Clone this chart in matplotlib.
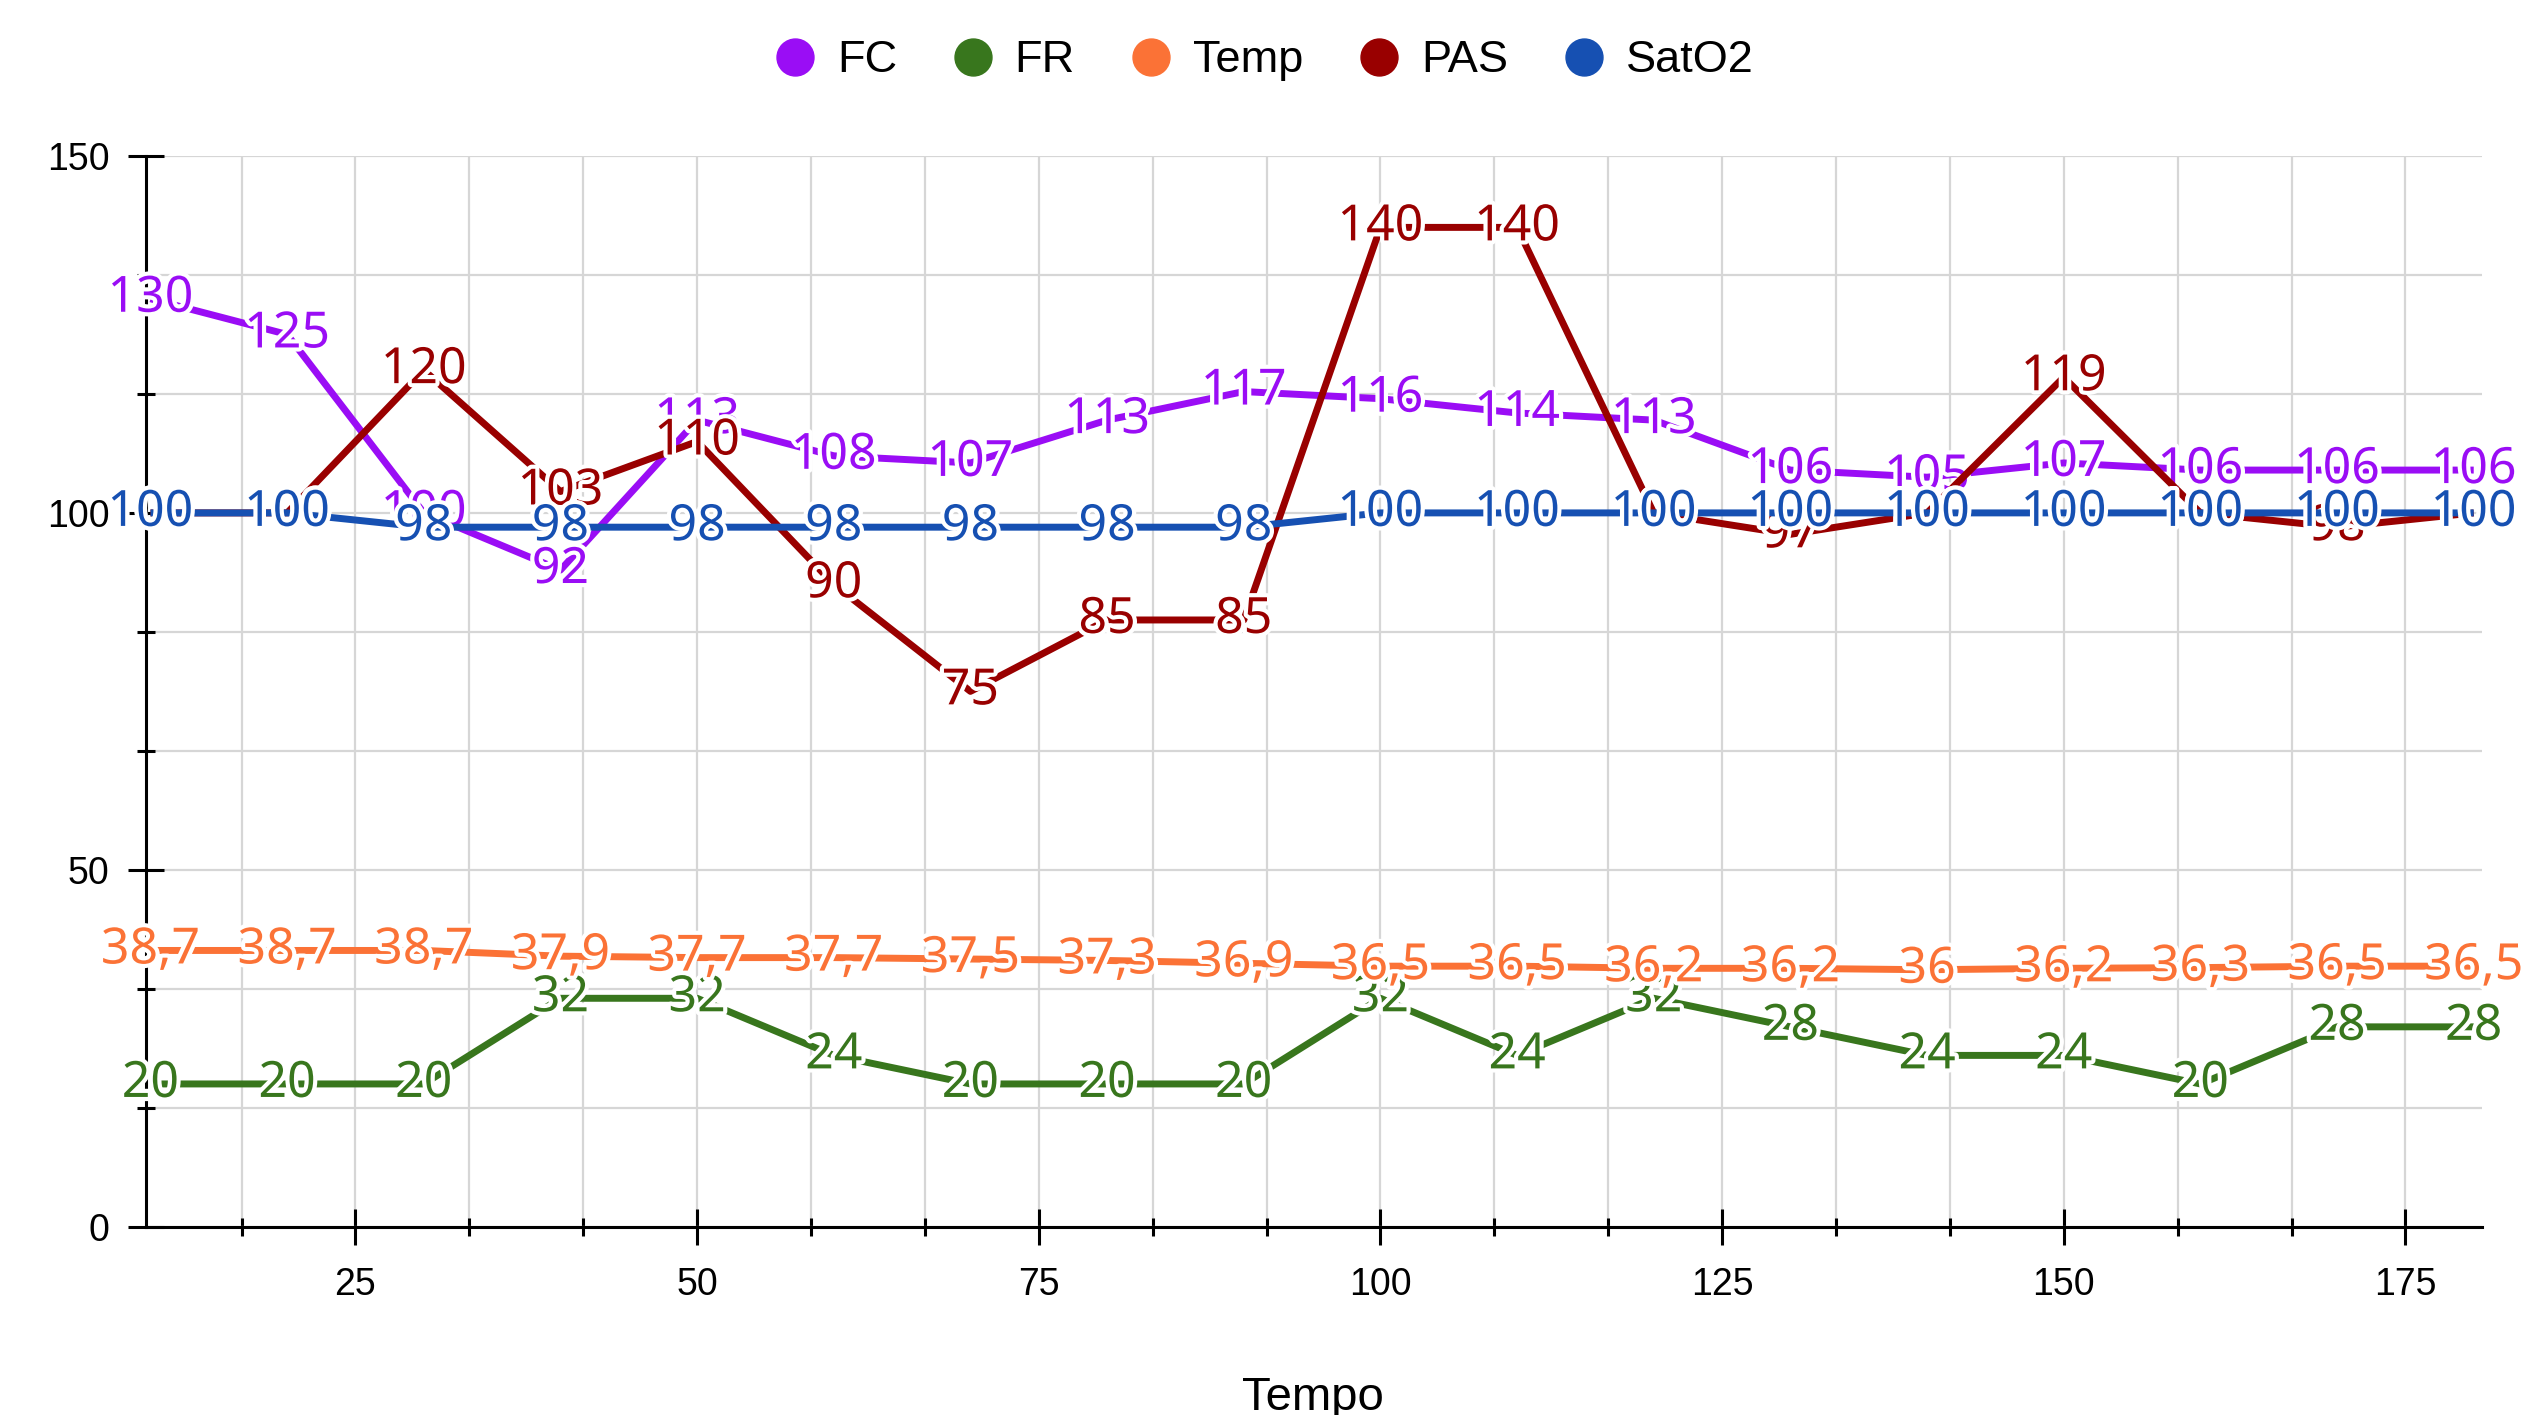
import numpy as np
import matplotlib
matplotlib.use("Agg")
import matplotlib.pyplot as plt
import matplotlib.patheffects as pe
from matplotlib.lines import Line2D
from matplotlib.ticker import MultipleLocator

plt.rcParams['font.family'] = ['Liberation Sans', 'DejaVu Sans']

# Dati
tempo = [10, 20, 30, 40, 50, 60, 70, 80, 90, 100, 110, 120, 130, 140, 150, 160, 170, 180]
fc = [130, 125, 100, 92, 113, 108, 107, 113, 117, 116, 114, 113, 106, 105, 107, 106, 106, 106]
fr = [20, 20, 20, 32, 32, 24, 20, 20, 20, 32, 24, 32, 28, 24, 24, 20, 28, 28]
temp = [38.7, 38.7, 38.7, 37.9, 37.7, 37.7, 37.5, 37.3, 36.9, 36.5, 36.5, 36.2, 36.2, 36.0, 36.2, 36.3, 36.5, 36.5]
pas = [100, 100, 120, 103, 110, 90, 75, 85, 85, 140, 140, 100, 97, 100, 119, 100, 98, 100]
sato2 = [100, 100, 98, 98, 98, 98, 98, 98, 98, 100, 100, 100, 100, 100, 100, 100, 100, 100]

nomi = ["FC", "FR", "Temp", "PAS", "SatO2"]
colori = ["#9a0df5", "#38761d", "#fb7236", "#990000", "#1650b2"]
serie = [fc, fr, temp, pas, sato2]

fig = plt.figure(figsize=(25.46, 14.15), dpi=100)
ax = fig.add_axes([0.05723, 0.13307, 0.9176, 0.75668])

for i, (nome, col, vals) in enumerate(zip(nomi, colori, serie)):
    ax.plot(tempo, vals, color=col, linewidth=5, zorder=10 + 2 * i, solid_capstyle='butt')
    for x, v in zip(tempo, vals):
        testo = f"{v:g}".replace('.', ',')
        ax.text(x, v, testo, color=col, fontsize=36, family='Noto Sans',
                ha='center', va='center', zorder=11 + 2 * i, clip_on=False,
                path_effects=[pe.withStroke(linewidth=6, foreground='white')])

ax.set_xlim(9.65, 180.6)
ax.set_ylim(0, 150)
ax.xaxis.set_major_locator(MultipleLocator(25))
ax.xaxis.set_minor_locator(MultipleLocator(25 / 3))
ax.yaxis.set_major_locator(MultipleLocator(50))
ax.yaxis.set_minor_locator(MultipleLocator(50 / 3))

ax.grid(True, which='both', color='#d6d6d6', linewidth=1.6, zorder=0)
ax.set_axisbelow(True)

for s in ['top', 'right']:
    ax.spines[s].set_visible(False)
for s in ['left', 'bottom']:
    ax.spines[s].set_linewidth(2.2)
    ax.spines[s].set_color('black')
    ax.spines[s].set_zorder(5)

ax.tick_params(which='major', direction='inout', length=26, width=2.2, color='black',
               labelsize=27, labelcolor='black')
ax.tick_params(which='minor', direction='inout', length=13, width=2.2, color='black')
ax.tick_params(axis='y', which='major', pad=13)
ax.tick_params(axis='x', which='major', pad=16)

fig.text(1313 / 2546, 5 / 1415, "Tempo", fontsize=34, ha='center', va='baseline')

handles = [Line2D([], [], linestyle='none', marker='o', markersize=26.6,
                  markerfacecolor=c, markeredgecolor=c) for c in colori]
fig.legend(handles, nomi, loc='center', bbox_to_anchor=(0.496, 0.957), ncol=5,
           frameon=False, prop={'size': 32.5},
           handlelength=1.0, handletextpad=0.43, columnspacing=1.18)

fig.savefig("out.png", dpi=100)
